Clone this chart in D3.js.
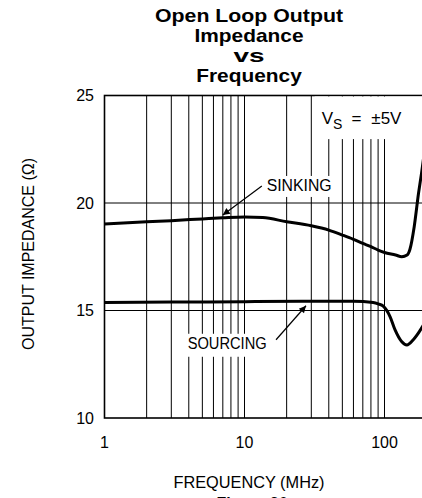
<!DOCTYPE html>
<html><head><meta charset="utf-8">
<script src="https://cdn.jsdelivr.net/npm/d3@7"></script>
<style>
html,body{margin:0;padding:0;background:#fff;}
svg{display:block;}
text{font-family:"Liberation Sans",Arial,sans-serif;fill:#000;}
</style></head>
<body>
<svg id="chart" width="422" height="498"></svg>
<script>
// ---- data ----
const titleLines = ["Open Loop Output", "Impedance", "vs", "Frequency"];
const xTicks = [1, 10, 100];
const yTicks = [10, 15, 20, 25];
const xLabel = "FREQUENCY (MHz)";
const yLabel = "OUTPUT IMPEDANCE (\u03A9)";
const caption = "Figure 36";

const sinkFreq = [1, 2, 3, 5, 7, 10, 13.5, 20, 30, 40, 50, 60, 70, 80, 90, 100, 120, 133, 145, 152, 163, 175, 184, 200];
const sinkVal  = [19.02, 19.13, 19.18, 19.26, 19.31, 19.35, 19.32, 19.13, 18.94, 18.74, 18.51, 18.31, 18.12, 17.97, 17.81, 17.70, 17.58, 17.50, 17.58, 17.85, 18.9, 20.45, 21.4, 23.2];

const srcFreq = [1, 3, 10, 30, 60, 83, 90, 98.4, 109.5, 119, 132.5, 144.5, 160.5, 184, 200];
const srcVal  = [15.37, 15.39, 15.41, 15.43, 15.43, 15.37, 15.31, 15.19, 14.72, 14.10, 13.56, 13.40, 13.64, 14.18, 14.6];

// annotations (data coordinates)
const sinkLabel = {text: "SINKING", f: 14.4, v: 20.56, fromF: 13.3, fromV: 20.79, toF: 7.0, toV: 19.44};
const srcLabel  = {text: "SOURCING", f: 14.4, v: 13.22, fromF: 16.8, fromV: 13.64, toF: 27.5, toV: 15.22};
const vsLabel   = {f: 35.6, v: 23.67};

// ---- layout ----
const svg = d3.select("#chart");
const pLeft = 104.5, pTop = 95.5, pBottom = 418;
const x = d3.scaleLog().domain([1, 200]).range([pLeft, pLeft + 140 * Math.log10(200)]);
const y = d3.scaleLinear().domain([10, 25]).range([pBottom, pTop]);

// title
svg.append("g").selectAll("text").data(titleLines).join("text")
  .attr("x", 249).attr("y", (d, i) => 21.7 + i * 20)
  .attr("text-anchor", "middle")
  .attr("font-size", 19).attr("font-weight", "bold")
  .attr("textLength", (d, i) => [188, 109, 31, 105.5][i])
  .attr("lengthAdjust", "spacingAndGlyphs")
  .text(d => d);

// grid
const grid = svg.append("g");
const minor = [];
[1, 10, 100].forEach(dec => { for (let k = 1; k <= 9; k++) { const f = dec * k; if (f <= 200) minor.push(f); } });
minor.push(200);
grid.selectAll("line.v").data(minor).join("line")
  .attr("x1", d => x(d)).attr("x2", d => x(d))
  .attr("y1", pTop).attr("y2", pBottom)
  .attr("stroke", "#000").attr("stroke-width", 1);
grid.selectAll("line.h").data([15, 20]).join("line")
  .attr("x1", pLeft).attr("x2", x(200))
  .attr("y1", d => y(d)).attr("y2", d => y(d))
  .attr("stroke", "#000").attr("stroke-width", 1);

// frame
svg.append("rect").attr("x", pLeft).attr("y", pTop)
  .attr("width", x(200) - pLeft).attr("height", pBottom - pTop)
  .attr("fill", "none").attr("stroke", "#000").attr("stroke-width", 1.6);

// axes labels
svg.append("g").selectAll("text").data(yTicks).join("text")
  .attr("x", 94).attr("y", d => y(d)).attr("dy", "0.36em")
  .attr("text-anchor", "end").attr("font-size", 16).text(d => d);
svg.append("g").selectAll("text").data(xTicks).join("text")
  .attr("x", d => x(d)).attr("y", 447.5)
  .attr("text-anchor", "middle").attr("font-size", 16).text(d => d);
svg.append("text").attr("x", 249).attr("y", 488)
  .attr("text-anchor", "middle").attr("font-size", 16)
  .attr("textLength", 151).attr("lengthAdjust", "spacingAndGlyphs").text(xLabel);
svg.append("text").attr("transform", "translate(33.5,254) rotate(-90)")
  .attr("text-anchor", "middle").attr("font-size", 16)
  .attr("textLength", 192).attr("lengthAdjust", "spacingAndGlyphs").text(yLabel);
svg.append("text").attr("x", 252).attr("y", 509).attr("text-anchor", "middle")
  .attr("font-size", 16).attr("font-weight", "bold").text(caption);

// label helper with white background
function boxedText(txt, px, py, anchor, width, padX, padTop, padBot) {
  const g = svg.append("g");
  const r = g.append("rect").attr("fill", "#fff");
  const t = g.append("text").attr("x", px).attr("y", py).attr("text-anchor", anchor)
    .attr("font-size", 16).attr("textLength", width).attr("lengthAdjust", "spacingAndGlyphs").text(txt);
  const b = t.node().getBBox();
  r.attr("x", b.x - padX).attr("y", b.y - padTop).attr("width", b.width + 2 * padX).attr("height", b.height + padTop + padBot);
  return g;
}
boxedText(sinkLabel.text, x(sinkLabel.f), y(sinkLabel.v), "start", 65, 4, 1, 3);
boxedText(srcLabel.text, x(srcLabel.f), y(srcLabel.v), "end", 79, 4, 1, 5);

// Vs label
const vsG = svg.append("g");
const vsRect = vsG.append("rect").attr("fill", "#fff");
const vsT = vsG.append("text").attr("x", x(vsLabel.f)).attr("y", y(vsLabel.v)).attr("font-size", 17);
vsT.append("tspan").text("V");
vsT.append("tspan").attr("dy", 5).attr("font-size", 14).text("S");
vsT.append("tspan").attr("dy", -5).attr("dx", 9).text("=");
vsT.append("tspan").attr("dx", 10).text("\u00B15V");
const vb = vsT.node().getBBox();
vsRect.attr("x", vb.x - 7).attr("y", pTop + 1).attr("width", 200).attr("height", vb.y + vb.height + 7 - pTop - 1);

// curves
const line = d3.line().x(d => x(d[0])).y(d => y(d[1])).curve(d3.curveMonotoneX);
svg.append("clipPath").attr("id", "pc").append("rect")
  .attr("x", pLeft).attr("y", pTop).attr("width", x(200) - pLeft).attr("height", pBottom - pTop);
const curves = svg.append("g").attr("clip-path", "url(#pc)");
curves.append("path").datum(sinkFreq.map((f, i) => [f, sinkVal[i]])).attr("d", line)
  .attr("fill", "none").attr("stroke", "#000").attr("stroke-width", 3).attr("stroke-linejoin", "round");
curves.append("path").datum(srcFreq.map((f, i) => [f, srcVal[i]])).attr("d", line)
  .attr("fill", "none").attr("stroke", "#000").attr("stroke-width", 3).attr("stroke-linejoin", "round");

// arrows
svg.append("defs").append("marker").attr("id", "ah")
  .attr("viewBox", "0 0 10 10").attr("refX", 10).attr("refY", 5)
  .attr("markerWidth", 10).attr("markerHeight", 7).attr("markerUnits", "userSpaceOnUse")
  .attr("orient", "auto").append("path").attr("d", "M0,0 L10,5 L0,10 z").attr("fill", "#000");
[sinkLabel, srcLabel].forEach(a => {
  svg.append("line").attr("x1", x(a.fromF)).attr("y1", y(a.fromV))
    .attr("x2", x(a.toF)).attr("y2", y(a.toV))
    .attr("stroke", "#000").attr("stroke-width", 1.2).attr("marker-end", "url(#ah)");
});
</script>
</body></html>
